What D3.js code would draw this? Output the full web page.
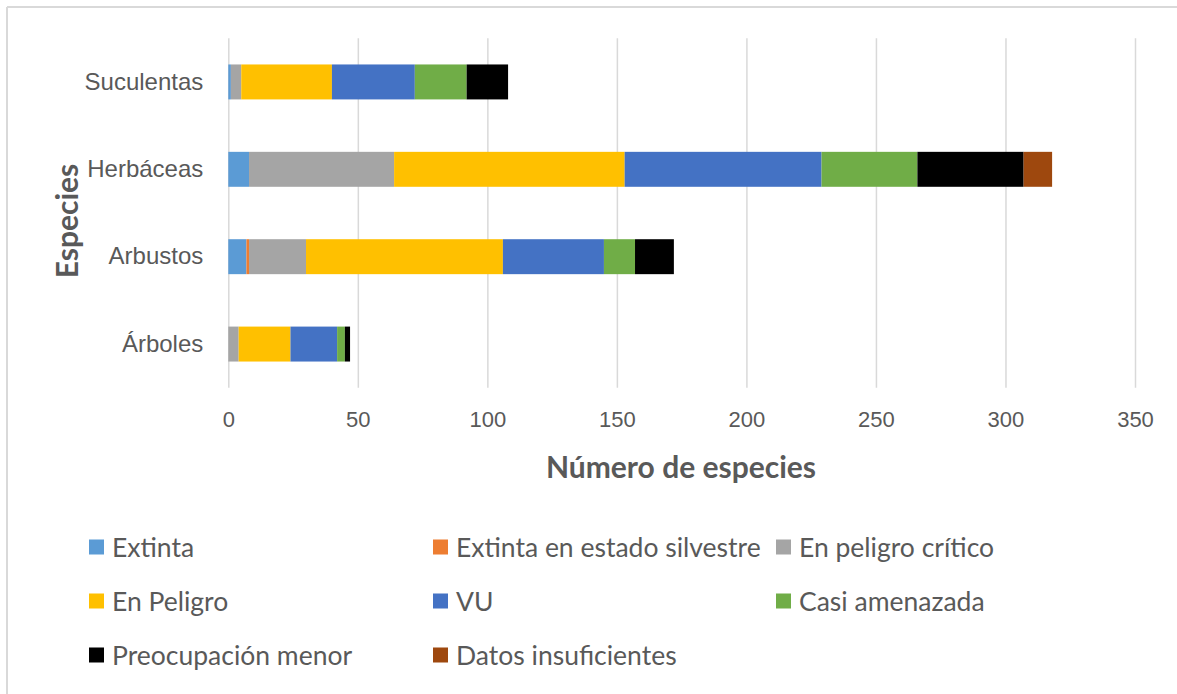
<!DOCTYPE html>
<html>
<head>
<meta charset="utf-8">
<script src="https://cdn.jsdelivr.net/npm/d3@7"></script>
<style>
  html, body { margin: 0; padding: 0; background: #fff; }
  svg { display: block; font-family: Lato, "Open Sans", sans-serif; }
</style>
</head>
<body>
<div id="chart"></div>
<script>
// Categories go bottom to top like the Excel chart
const categories = ['Árboles', 'Arbustos', 'Herbáceas', 'Suculentas'];

const extinta = [0, 7, 8, 1];
const extintaSilvestre = [0, 1, 0, 0];
const peligroCritico = [4, 22, 56, 4];
const enPeligro = [20, 76, 89, 35];
const vulnerable = [18, 39, 76, 32];
const casiAmenazada = [3, 12, 37, 20];
const preocupacionMenor = [2, 15, 41, 16];
const datosInsuficientes = [0, 0, 11, 0];

const seriesNames = [
  'Extinta', 'Extinta en estado silvestre', 'En peligro crítico',
  'En Peligro', 'VU', 'Casi amenazada',
  'Preocupación menor', 'Datos insuficientes'
];
const seriesValues = [
  extinta, extintaSilvestre, peligroCritico,
  enPeligro, vulnerable, casiAmenazada,
  preocupacionMenor, datosInsuficientes
];
const seriesColors = ['#5b9bd5', '#ed7d31', '#a5a5a5', '#ffc000', '#4472c4', '#70ad47', '#000000', '#9e480e'];

const xTicks = [0, 50, 100, 150, 200, 250, 300, 350];

const width = 1177;
const height = 694;
const plotLeft = 228.3;
const plotRight = 1135;
const plotTop = 38.25;
const plotBottom = 387.75;
const textColor = '#595959';
const gridColor = '#d9d9d9';

// rows for d3.stack
const rows = categories.map((c, i) => {
  let row = {category: c};
  seriesNames.forEach((s, j) => { row[s] = seriesValues[j][i]; });
  return row;
});

const stacked = d3.stack().keys(seriesNames)(rows);

const svg = d3.select('#chart')
  .append('svg')
  .attr('width', width)
  .attr('height', height);

// frame: only top and left edges show in the screenshot
svg.append('line')
  .attr('x1', 7).attr('x2', width).attr('y1', 7).attr('y2', 7)
  .attr('stroke', gridColor).attr('stroke-width', 2);
svg.append('line')
  .attr('x1', 7).attr('x2', 7).attr('y1', 7).attr('y2', height)
  .attr('stroke', gridColor).attr('stroke-width', 2);

const x = d3.scaleLinear().domain([0, 350]).range([plotLeft, plotRight]);
const y = d3.scaleBand()
  .domain(categories.slice().reverse())
  .range([plotTop, plotBottom])
  .paddingInner(0.6)
  .paddingOuter(0.3);

// gridlines + tick labels
const xAxis = svg.append('g')
  .attr('transform', 'translate(0,' + plotBottom + ')')
  .call(d3.axisBottom(x).tickValues(xTicks).tickSize(-(plotBottom - plotTop)).tickPadding(24));
xAxis.select('.domain').remove();
xAxis.selectAll('line').attr('stroke', gridColor).attr('stroke-width', 1.5);
xAxis.selectAll('text')
  .attr('fill', textColor)
  .style('font-size', '22px');

const yAxis = svg.append('g')
  .attr('transform', 'translate(' + plotLeft + ',0)')
  .call(d3.axisLeft(y).tickSize(0).tickPadding(25));
yAxis.select('.domain').remove();
yAxis.selectAll('text')
  .attr('fill', textColor)
  .style('font-size', '24px');

// bars
svg.append('g')
  .selectAll('g')
  .data(stacked)
  .enter()
  .append('g')
  .attr('fill', (d, i) => seriesColors[i])
  .selectAll('rect')
  .data((d) => d)
  .enter()
  .append('rect')
  .attr('x', (d) => x(d[0]))
  .attr('y', (d) => y(d.data.category))
  .attr('width', (d) => x(d[1]) - x(d[0]))
  .attr('height', y.bandwidth());

// axis titles
svg.append('text')
  .attr('x', 681)
  .attr('y', 466)
  .attr('text-anchor', 'middle')
  .attr('dominant-baseline', 'central')
  .attr('fill', textColor)
  .style('font-size', '30px')
  .style('font-weight', 'bold')
  .text('Número de especies');

svg.append('text')
  .attr('transform', 'translate(66,221) rotate(-90)')
  .attr('text-anchor', 'middle')
  .attr('dominant-baseline', 'central')
  .attr('fill', textColor)
  .style('font-size', '30px')
  .style('font-weight', 'bold')
  .text('Especies');

// legend, 3 columns
const legendCols = [89, 433, 776];
const legendRows = [547, 601, 655];

const legend = svg.append('g')
  .selectAll('g')
  .data(seriesNames)
  .enter()
  .append('g')
  .attr('transform', (d, i) => 'translate(' + legendCols[i % 3] + ',' + legendRows[Math.floor(i / 3)] + ')');

legend.append('rect')
  .attr('x', 0)
  .attr('y', -7.5)
  .attr('width', 15)
  .attr('height', 15)
  .attr('fill', (d, i) => seriesColors[i]);

legend.append('text')
  .attr('x', 23)
  .attr('y', 0)
  .attr('dominant-baseline', 'central')
  .attr('fill', textColor)
  .style('font-size', '26.5px')
  .text((d) => d);
</script>
</body>
</html>
